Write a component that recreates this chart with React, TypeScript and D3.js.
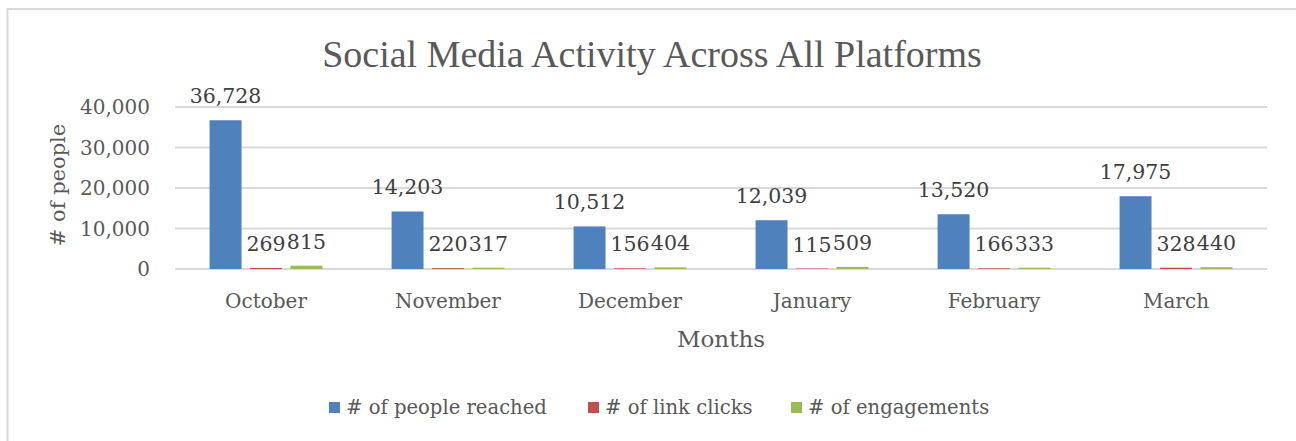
import React from "react";
import * as d3 from "d3";

const months = ["October", "November", "December", "January", "February", "March"];
const seriesNames = ["# of people reached", "# of link clicks", "# of engagements"];
const peopleReached = [36728, 14203, 10512, 12039, 13520, 17975];
const linkClicks = [269, 220, 156, 115, 166, 328];
const engagements = [815, 317, 404, 509, 333, 440];
const yTicks = [0, 10000, 20000, 30000, 40000];
const colors = ["#4F81BD", "#C0504D", "#9BBB59"];

const W = 1296;
const H = 441;
const FONT = "'DejaVu Serif', serif";

export default function App() {
  const values = [peopleReached, linkClicks, engagements];
  const x0 = d3.scaleBand<string>().domain(months).range([175, 1267]).padding(0);
  const bw = x0.bandwidth();
  const x1 = d3
    .scaleBand<string>()
    .domain(seriesNames)
    .range([bw * 0.19, bw * 0.81])
    .paddingInner(0.21)
    .paddingOuter(0);
  const y = d3.scaleLinear().domain([0, 40000]).range([269, 107]);
  const fmtBlue = d3.format(",");
  const fmtPlain = d3.format("d");

  return (
    <svg
      width={W}
      height={H}
      style={{ position: "absolute", left: 0, top: 0, background: "#fff" }}
      fontFamily={FONT}
    >
      <rect x={7.5} y={9} width={W + 10} height={H + 10} fill="#fff" stroke="#d9d9d9" strokeWidth={2} />
      <text
        x={652}
        y={67}
        textAnchor="middle"
        fontSize={38}
        fill="#595959"
        fontFamily="'Liberation Serif', serif"
      >
        Social Media Activity Across All Platforms
      </text>

      {yTicks.map((t) => (
        <g key={t}>
          <line x1={175} x2={1267} y1={y(t)} y2={y(t)} stroke="#d9d9d9" strokeWidth={2} />
          <text x={150} y={y(t)} dy="0.35em" textAnchor="end" fontSize={20} fill="#595959">
            {d3.format(",")(t)}
          </text>
        </g>
      ))}

      {months.map((m, i) => (
        <g key={m} transform={`translate(${x0(m)},0)`}>
          {seriesNames.map((s, j) => {
            const v = values[j][i];
            const bx = x1(s) as number;
            const top = y(v);
            return (
              <g key={s}>
                <rect x={bx} y={top} width={x1.bandwidth()} height={y(0) - top} fill={colors[j]} />
                <text
                  x={bx + x1.bandwidth() / 2}
                  y={top - 17}
                  textAnchor="middle"
                  fontSize={20.5}
                  fill="#404040"
                >
                  {j === 0 ? fmtBlue(v) : fmtPlain(v)}
                </text>
              </g>
            );
          })}
          <text x={bw / 2} y={308} textAnchor="middle" fontSize={20} fill="#595959">
            {m}
          </text>
        </g>
      ))}

      <text x={721} y={347} textAnchor="middle" fontSize={23} fill="#595959">
        Months
      </text>
      <text
        transform={`translate(65,185) rotate(-90)`}
        textAnchor="middle"
        fontSize={21}
        fill="#595959"
      >
        # of people
      </text>

      {seriesNames.map((s, j) => {
        const lx = [329, 588, 791][j];
        return (
          <g key={s}>
            <rect x={lx} y={402} width={11} height={11} fill={colors[j]} />
            <text x={lx + 17} y={407.5} dy="0.35em" fontSize={19.6} fill="#595959">
              {s}
            </text>
          </g>
        );
      })}
    </svg>
  );
}
